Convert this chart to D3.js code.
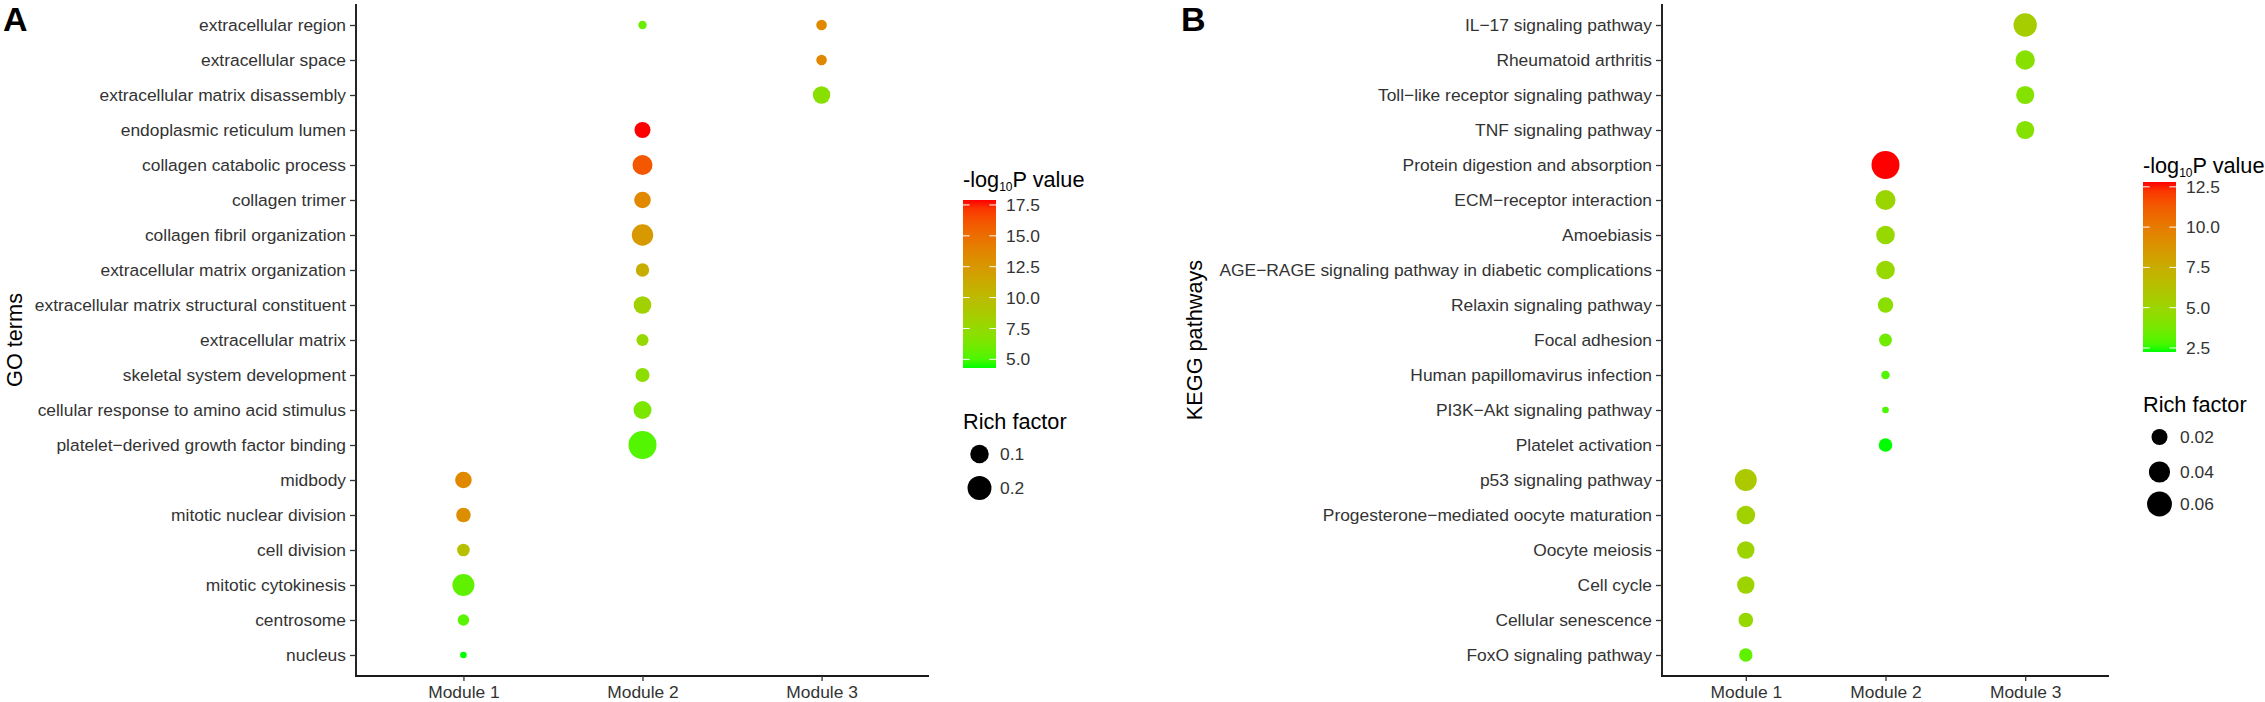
<!DOCTYPE html>
<html>
<head>
<meta charset="utf-8">
<script src="https://cdn.jsdelivr.net/npm/d3@7"></script>
<style>
  html, body { margin: 0; padding: 0; background: #fff; }
  svg { display: block; font-family: "Liberation Sans", Arial, sans-serif; }
</style>
</head>
<body>
<svg id="chart" width="2265" height="702"></svg>
<script>
// ---------------- DATA ----------------
const modules = ["Module 1", "Module 2", "Module 3"];

const goTerms = [
  "extracellular region", "extracellular space", "extracellular matrix disassembly",
  "endoplasmic reticulum lumen", "collagen catabolic process", "collagen trimer",
  "collagen fibril organization", "extracellular matrix organization",
  "extracellular matrix structural constituent", "extracellular matrix",
  "skeletal system development", "cellular response to amino acid stimulus",
  "platelet\u2212derived growth factor binding", "midbody", "mitotic nuclear division",
  "cell division", "mitotic cytokinesis", "centrosome", "nucleus"
];
// points: term, module, rich factor, -log10 P
const goPointTerm = [
  "extracellular region", "extracellular region", "extracellular space", "extracellular matrix disassembly",
  "endoplasmic reticulum lumen", "collagen catabolic process", "collagen trimer",
  "collagen fibril organization", "extracellular matrix organization",
  "extracellular matrix structural constituent", "extracellular matrix",
  "skeletal system development", "cellular response to amino acid stimulus",
  "platelet\u2212derived growth factor binding", "midbody", "mitotic nuclear division",
  "cell division", "mitotic cytokinesis", "centrosome", "nucleus"
];
const goPointModule = [
  "Module 2", "Module 3", "Module 3", "Module 3",
  "Module 2", "Module 2", "Module 2", "Module 2", "Module 2", "Module 2", "Module 2",
  "Module 2", "Module 2", "Module 2",
  "Module 1", "Module 1", "Module 1", "Module 1", "Module 1", "Module 1"
];
const goRich = [
  0.012, 0.020, 0.020, 0.084,
  0.066, 0.124, 0.073, 0.149, 0.039, 0.088, 0.029, 0.045, 0.092, 0.300,
  0.073, 0.050, 0.033, 0.160, 0.025, 0.010
];
const goLogP = [
  5.8, 13.5, 13.5, 7.0,
  17.9, 16.0, 13.5, 12.5, 11.0, 8.2, 7.6, 7.2, 6.4, 5.2,
  13.5, 13.1, 9.6, 5.5, 5.3, 4.3
];
const goColorTicks = [5, 7.5, 10, 12.5, 15, 17.5];
const goSizeBreaks = [0.1, 0.2];

const keggTerms = [
  "IL\u221217 signaling pathway", "Rheumatoid arthritis", "Toll\u2212like receptor signaling pathway",
  "TNF signaling pathway", "Protein digestion and absorption", "ECM\u2212receptor interaction",
  "Amoebiasis", "AGE\u2212RAGE signaling pathway in diabetic complications",
  "Relaxin signaling pathway", "Focal adhesion", "Human papillomavirus infection",
  "PI3K\u2212Akt signaling pathway", "Platelet activation", "p53 signaling pathway",
  "Progesterone\u2212mediated oocyte maturation", "Oocyte meiosis", "Cell cycle",
  "Cellular senescence", "FoxO signaling pathway"
];
const keggPointModule = [
  "Module 3", "Module 3", "Module 3", "Module 3",
  "Module 2", "Module 2", "Module 2", "Module 2", "Module 2", "Module 2", "Module 2", "Module 2", "Module 2",
  "Module 1", "Module 1", "Module 1", "Module 1", "Module 1", "Module 1"
];
const keggRich = [
  0.051, 0.032, 0.027, 0.027,
  0.080, 0.035, 0.029, 0.029, 0.018, 0.012, 0.0061, 0.0055, 0.0135,
  0.044, 0.029, 0.0245, 0.0245, 0.016, 0.013
];
const keggLogP = [
  5.5, 4.3, 4.2, 4.2,
  12.8, 5.0, 4.8, 4.8, 4.4, 3.6, 2.9, 2.8, 2.25,
  5.8, 5.3, 5.1, 5.1, 4.8, 3.2
];
const keggColorTicks = [2.5, 5, 7.5, 10, 12.5];
const keggSizeBreaks = [0.02, 0.04, 0.06];

// ---------------- DRAW ----------------
const svg = d3.select("#chart");
const FONT_TXT = 17.4, FONT_TITLE = 21.7;
const TXT_COL = "#333333";

function panel(cfg) {
  const g = svg.append("g");
  const y = d3.scalePoint().domain(cfg.terms).range([cfg.top, cfg.bottom]).padding(0.6);
  const x = d3.scalePoint().domain(modules).range([cfg.left, cfg.right]).padding(0.6);

  const pts = cfg.pointTerms.map((t, i) => ({
    term: t, module: cfg.pointModules[i], rich: cfg.rich[i], logp: cfg.logp[i]
  }));
  const pExt = d3.extent(cfg.logp);
  const rExt = d3.extent(cfg.rich);
  const color = d3.scaleLinear().domain(pExt).range(["#00ff00", "#ff0000"]).interpolate(d3.interpolateLab);
  const rs = d3.scaleSqrt().domain([0, rExt[1] - rExt[0]]).range([3.3, 14]);
  const radius = v => rs(Math.max(0, v - rExt[0]));

  // axes
  const ya = g.append("g").attr("transform", `translate(${cfg.left},0)`)
    .call(d3.axisLeft(y).tickSize(6).tickSizeOuter(0).tickPadding(4));
  const xa = g.append("g").attr("transform", `translate(0,${cfg.bottom})`)
    .call(d3.axisBottom(x).tickSize(5).tickSizeOuter(0).tickPadding(4.5));
  [ya, xa].forEach(a => {
    a.select(".domain").attr("stroke", "#1a1a1a").attr("stroke-width", 1.9);
    a.selectAll(".tick line").attr("stroke", "#333").attr("stroke-width", 1.3);
    a.selectAll(".tick text").attr("fill", TXT_COL).attr("font-size", FONT_TXT)
      .attr("font-family", "Liberation Sans, Arial, sans-serif");
  });
  // extend domain lines to the corner
  ya.select(".domain").attr("d", `M0,${cfg.top}V${cfg.bottom + 0.95}`);
  xa.select(".domain").attr("d", `M${cfg.left - 0.95},0H${cfg.right}`);

  // points
  g.append("g").selectAll("circle").data(pts).join("circle")
    .attr("cx", d => x(d.module)).attr("cy", d => y(d.term))
    .attr("r", d => radius(d.rich)).attr("fill", d => color(d.logp));

  // axis title
  g.append("text").attr("transform", `translate(${cfg.titleX},${(cfg.top + cfg.bottom) / 2}) rotate(-90)`)
    .attr("text-anchor", "middle").attr("dy", "0.35em").attr("font-size", FONT_TITLE).attr("fill", "#000")
    .text(cfg.yTitle);

  // panel letter
  g.append("text").attr("x", cfg.letterX).attr("y", 31).attr("font-size", 34).attr("font-weight", "bold")
    .attr("fill", "#000").text(cfg.letter);

  // colour legend
  const L = cfg.legend;
  const lt = g.append("text").attr("x", L.x).attr("y", L.titleY).attr("font-size", FONT_TITLE).attr("fill", "#000");
  lt.append("tspan").text("-log");
  lt.append("tspan").attr("font-size", 12).attr("dy", 4).text("10");
  lt.append("tspan").attr("dy", -4).text("P value");

  const gradId = "grad" + cfg.letter;
  const grad = svg.append("defs").append("linearGradient").attr("id", gradId)
    .attr("x1", 0).attr("y1", 1).attr("x2", 0).attr("y2", 0);
  d3.range(0, 1.0001, 0.05).forEach(t => {
    grad.append("stop").attr("offset", t).attr("stop-color", color(pExt[0] + t * (pExt[1] - pExt[0])));
  });
  const cb = d3.scaleLinear().domain(pExt).range([L.barBottom, L.barTop]);
  const bw = 33;
  g.append("rect").attr("x", L.x).attr("y", L.barTop).attr("width", bw)
    .attr("height", L.barBottom - L.barTop).attr("fill", `url(#${gradId})`);
  cfg.colorTicks.forEach(v => {
    const yy = cb(v);
    g.append("line").attr("x1", L.x).attr("x2", L.x + 6.6).attr("y1", yy).attr("y2", yy)
      .attr("stroke", "#fff").attr("stroke-width", 1);
    g.append("line").attr("x1", L.x + bw - 6.6).attr("x2", L.x + bw).attr("y1", yy).attr("y2", yy)
      .attr("stroke", "#fff").attr("stroke-width", 1);
    g.append("text").attr("x", L.x + bw + 10).attr("y", yy).attr("dy", "0.35em")
      .attr("font-size", FONT_TXT).attr("fill", TXT_COL).text(d3.format(".1f")(v));
  });

  // size legend
  g.append("text").attr("x", L.x).attr("y", L.sizeTitleY).attr("font-size", FONT_TITLE).attr("fill", "#000")
    .text("Rich factor");
  cfg.sizeBreaks.forEach((v, i) => {
    const cy = L.sizeY[i];
    g.append("circle").attr("cx", L.x + 16.5).attr("cy", cy).attr("r", radius(v)).attr("fill", "#000");
    g.append("text").attr("x", L.sizeLabelX).attr("y", cy).attr("dy", "0.35em")
      .attr("font-size", FONT_TXT).attr("fill", TXT_COL).text(v);
  });
}

panel({
  letter: "A", letterX: 3, terms: goTerms, pointTerms: goPointTerm, pointModules: goPointModule,
  rich: goRich, logp: goLogP, colorTicks: goColorTicks, sizeBreaks: goSizeBreaks,
  left: 356, right: 929, top: 4, bottom: 676, titleX: 14, yTitle: "GO terms",
  legend: { x: 963, titleY: 187, barTop: 200, barBottom: 368, sizeTitleY: 429,
            sizeY: [454, 488], sizeLabelX: 1000 }
});

panel({
  letter: "B", letterX: 1181, terms: keggTerms, pointTerms: keggTerms, pointModules: keggPointModule,
  rich: keggRich, logp: keggLogP, colorTicks: keggColorTicks, sizeBreaks: keggSizeBreaks,
  left: 1662, right: 2109, top: 4, bottom: 676, titleX: 1194, yTitle: "KEGG pathways",
  legend: { x: 2143, titleY: 173, barTop: 182, barBottom: 352, sizeTitleY: 412,
            sizeY: [437, 472, 504], sizeLabelX: 2180 }
});
</script>
</body>
</html>
